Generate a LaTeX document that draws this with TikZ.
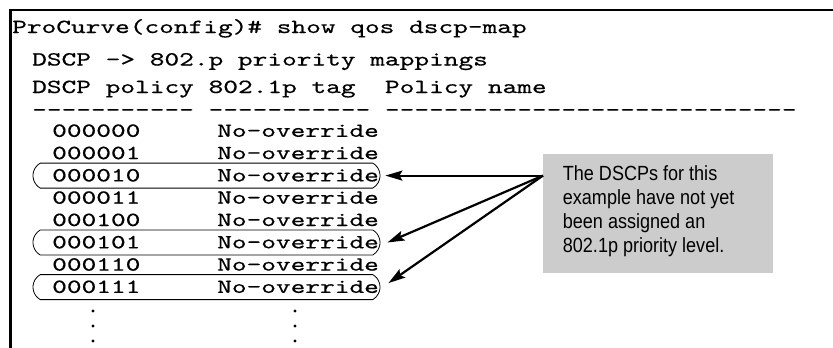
\documentclass[tikz,border=0pt]{standalone}
\usepackage{fontspec}
\usetikzlibrary{arrows.meta,shapes.misc}
\newfontfamily\termfont{lmmono10-regular}[Extension=.otf,FakeStretch=1.40,FakeBold=0.5]
\newfontfamily\notefont{Liberation Sans}[FakeStretch=0.88]
\definecolor{notegray}{RGB}{204,204,204}
\newcommand\tdashes[1]{\ifnum#1>0 \hbox{-}\expandafter\tdashes\expandafter{\the\numexpr#1-1\relax}\fi}
\tikzset{
  term/.style={font=\termfont\fontsize{20pt}{21pt}\selectfont, inner sep=0pt, anchor=base west},
  hl/.style={draw, rounded rectangle, rounded rectangle arc length=120, line width=0.8pt,
             minimum width=347pt, minimum height=25pt, inner sep=0pt},
  notebox/.style={fill=notegray, draw=none, inner sep=0pt, minimum width=230pt, minimum height=119pt},
  notetext/.style={font=\notefont\fontsize{20.5pt}{24pt}\selectfont, align=left, inner sep=0pt},
  arr/.style={line width=2.2pt, -{Stealth[length=17pt,width=10pt,inset=3pt]}},
  frame/.style={line width=2.7pt, line join=miter}
}
\begin{document}
\begin{tikzpicture}[x=1pt,y=-1pt]
\useasboundingbox (0,0) rectangle (833,348);
\draw[frame] (10.7,348) -- (10.7,9.9) -- (833,9.9);
% header lines
\node[term] (l1) at (12,33) {ProCurve(config)\# show qos dscp-map};
\node[term] (l2) at (32,65.5) {DSCP -> 802.p priority mappings};
\node[term] (l3) at (32,93) {DSCP policy 802.1p tag\ \ Policy name};
\node[term] (l4) at (32,116) {\tdashes{11} \tdashes{11} \tdashes{28}};
% rows
\node[term] (r1) at (52,136.8) {000000}; \node[term] (n1) at (217,136.8) {No-override};
\node[term] (r2) at (52,159.1) {000001}; \node[term] (n2) at (217,159.1) {No-override};
\node[term] (r3) at (52,181.4) {000010}; \node[term] (n3) at (217,181.4) {No-override};
\node[term] (r4) at (52,203.7) {000011}; \node[term] (n4) at (217,203.7) {No-override};
\node[term] (r5) at (52,226.0) {000100}; \node[term] (n5) at (217,226.0) {No-override};
\node[term] (r6) at (52,248.3) {000101}; \node[term] (n6) at (217,248.3) {No-override};
\node[term] (r7) at (52,270.6) {000110}; \node[term] (n7) at (217,270.6) {No-override};
\node[term] (r8) at (52,292.9) {000111}; \node[term] (n8) at (217,292.9) {No-override};
% continuation dots
\foreach \y in {311,326,341} {
  \fill (93,\y) circle (1.6pt);
  \fill (295,\y) circle (1.6pt);
}
% highlighted rows
\node[hl] (hl3) at (206.5,175.6) {};
\node[hl] (hl6) at (206.5,242.5) {};
\node[hl] (hl8) at (206.5,287.1) {};
% callout
\node[notebox, anchor=north west] (callout) at (543,154) {};
\node[notetext, anchor=north west] (note) at ([xshift=19.7pt,yshift=-11pt]callout.north west)
  {The DSCPs for this\\example have not yet\\been assigned an\\802.1p priority level.};
% arrows
\draw[arr] (callout.west |- hl3) -- ([xshift=5pt]hl3.east);
\draw[arr] (callout.west |- hl3) -- ([xshift=7pt]hl6.east);
\draw[arr] (callout.west |- hl3) -- ([xshift=8pt,yshift=4pt]hl8.east);
\end{tikzpicture}
\end{document}
